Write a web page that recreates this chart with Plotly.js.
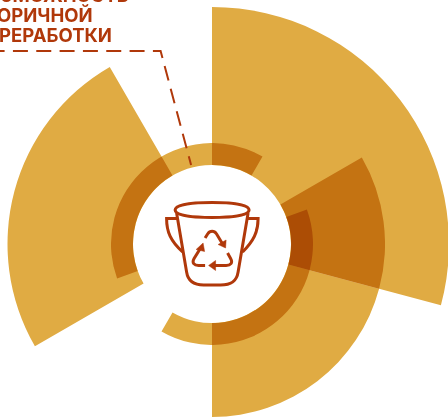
<!DOCTYPE html>
<html><head><meta charset="utf-8">
<script src="https://cdn.plot.ly/plotly-3.0.1.min.js"></script>
<style>
html,body{margin:0;padding:0;width:448px;height:417px;overflow:hidden;background:#fff}
#chart{position:absolute;left:-87.6px;top:-56px;width:600px;height:600px}
#chart .barlayer path{mix-blend-mode:multiply}
</style></head><body>
<div id="chart"></div>
<script>
// Outer sectors: start/end angle (degrees clockwise from north), outer radius
var outerStart=[0,60,105,240];
var outerEnd=[105,105,180,330];
var outerRadius=[237,173,173,204.5];
// Inner ring segments
var ringStart=[250,70];
var ringEnd=[390,210];
var ringRadius=[101,101];
var innerRadius=79;
var labelLines=['ВОЗМОЖНОСТЬ','ВТОРИЧНОЙ','ПЕРЕРАБОТКИ'];
var gold='#E0AB43', red='#B0380A';
function mid(a,b){return a.map(function(v,i){return (v+b[i])/2;});}
function wid(a,b){return a.map(function(v,i){return b[i]-v;});}
function len(r){return r.map(function(v){return v-innerRadius;});}
function base(r){return r.map(function(){return innerRadius;});}
var bar={type:'barpolar',marker:{color:gold,line:{width:0}},hoverinfo:'skip'};
var traces=[
 Object.assign({},bar,{theta:mid(outerStart,outerEnd),width:wid(outerStart,outerEnd),r:len(outerRadius),base:base(outerRadius)}),
 Object.assign({},bar,{theta:mid(ringStart,ringEnd),width:wid(ringStart,ringEnd),r:len(ringRadius),base:base(ringRadius)})
];
var S=600,cx=87.6,cy=56;
function X(p){return (p+cx)/S;}
function Y(p){return 1-(p+cy)/S;}
function P(segs){return segs.map(function(s){
  return s[0]+' '+s.slice(1).map(function(v,i){return (i%2?Y(v):X(v)).toFixed(5);}).join(' ');
}).join(' ');}
function stroke(path,w,dash){return {type:'path',xref:'paper',yref:'paper',path:path,layer:'above',line:{color:red,width:w,dash:dash||'solid'}};}
function head(path){return {type:'path',xref:'paper',yref:'paper',path:path,layer:'above',fillcolor:red,line:{color:red,width:0.5}};}
var iconW=3;
var shapes=[
 stroke(P([['M',-10,51],['L',161,51],['L',191.5,165]]),2,'15px,8.33px'),
 // rim
 stroke(P([['M',175.5,210],['C',175.5,204,195,202.5,212.5,202.5],['C',230,202.5,249.5,204,249.5,210],['C',249.5,216,230,217.5,212.5,217.5],['C',195,217.5,175.5,216,175.5,210],['Z']]),iconW),
 // body
 stroke(P([['M',177,213],['L',187,272],['C',188.5,282,195,285,204,285],['L',221,285],['C',231,285,237,282,238.5,272],['L',248.5,213]]),iconW),
 // handles
 stroke(P([['M',178,218.5],['L',167,218.5],['C',167,232,171,241,183,252]]),iconW),
 stroke(P([['M',247,218.5],['L',258.5,218.5],['C',258.5,232,254,241,243,252]]),iconW),
 // recycle arrows
 stroke(P([['M',205.5,238],['L',208,234],['C',210.5,230.5,214.5,230.5,217,234],['L',223,244]]),iconW),
 head(P([['M',218.5,244.5],['L',226,248],['L',226.5,240],['Z']])),
 stroke(P([['M',228,253],['L',231,258.5],['C',233.5,263,231,265.5,226.5,265.5],['L',214,265.5]]),iconW),
 head(P([['M',216,260.5],['L',209,265.5],['L',216,270.5],['Z']])),
 stroke(P([['M',201,248],['L',194.5,258.5],['C',192,263,194.5,265.5,199,265.5],['L',205.5,265.5]]),iconW),
 head(P([['M',196.5,249.5],['L',203.5,243],['L',205,251.5],['Z']]))
];
var font={family:'Inter, "Open Sans", sans-serif',size:18.5,color:red};
var annotations=labelLines.map(function(t,i){
 return {xref:'paper',yref:'paper',x:X(-28),y:Y(-5+20*i),xanchor:'left',yanchor:'middle',showarrow:false,align:'left',text:'<b>'+t+'</b>',font:font};
});
var layout={width:S,height:S,margin:{l:0,r:0,t:0,b:0},paper_bgcolor:'rgba(0,0,0,0)',showlegend:false,
 shapes:shapes,annotations:annotations,
 polar:{domain:{x:[0,1],y:[0,1]},bgcolor:'rgba(0,0,0,0)',barmode:'overlay',
  angularaxis:{visible:false,direction:'clockwise',rotation:90,thetaunit:'degrees'},
  radialaxis:{visible:false,range:[0,300]}}};
Plotly.newPlot('chart',traces,layout,{displayModeBar:false,staticPlot:true});
</script></body></html>
